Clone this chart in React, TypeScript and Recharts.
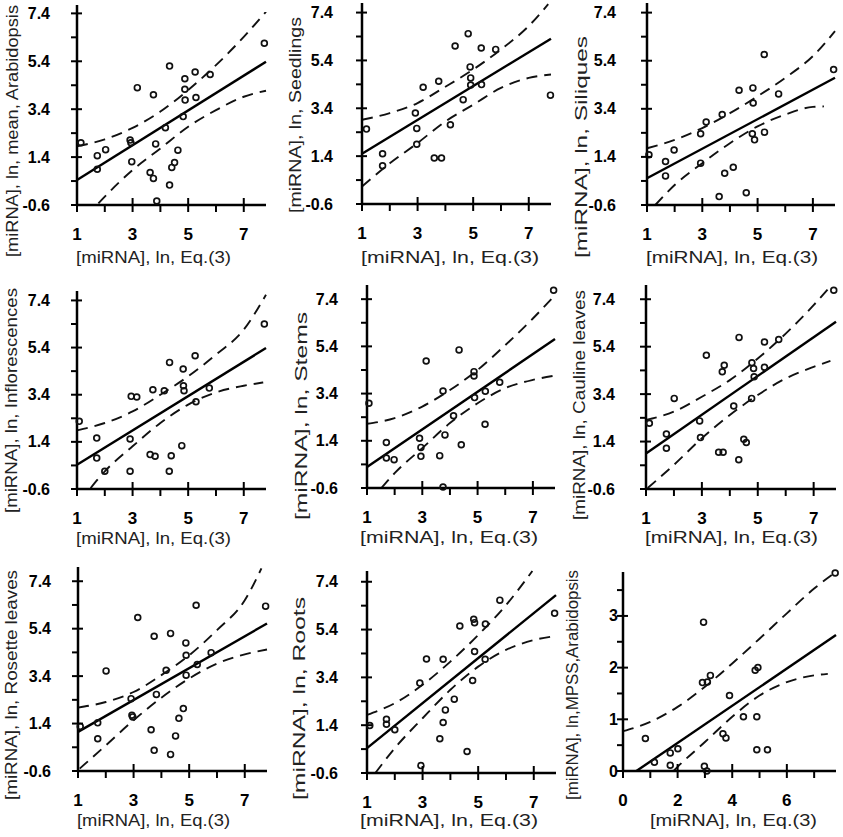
import { ComposedChart, Scatter, Line, XAxis, YAxis } from "recharts"

type P = { x: number; y: number }

const pt = (x: number, y: number): P => ({ x, y })

// [miRNA], ln, mean, Arabidopsis
const meanPts = [
  pt(1.14, 2.0), pt(1.73, 1.46), pt(1.73, 0.89), pt(2.03, 1.71), pt(2.91, 2.11),
  pt(2.94, 2.0), pt(2.97, 1.21), pt(3.17, 4.3), pt(3.75, 4.0), pt(3.63, 0.76),
  pt(3.75, 0.51), pt(3.83, 1.95), pt(3.87, -0.43), pt(4.18, 2.63), pt(4.33, 5.2),
  pt(4.33, 0.23), pt(4.41, 0.97), pt(4.51, 1.17), pt(4.63, 1.69), pt(4.82, 3.09),
  pt(4.88, 4.67), pt(4.88, 4.23), pt(4.89, 3.78), pt(5.25, 4.95), pt(5.28, 3.89),
  pt(5.79, 4.85), pt(7.74, 6.15),
]
const meanFit = [pt(1, 0.44), pt(7.8, 5.38)]
const meanHi = [pt(1, 1.85), pt(2, 2.14), pt(3, 2.62), pt(4, 3.3), pt(5, 4.2), pt(6, 5.24), pt(7, 6.42), pt(7.8, 7.47)]
const meanLo = [pt(1.77, -0.53), pt(2, -0.25), pt(3, 0.86), pt(4, 1.76), pt(5, 2.67), pt(6, 3.36), pt(7, 3.92), pt(7.8, 4.17)]

// Seedlings
const seedPts = [
  pt(1.16, 2.53), pt(1.74, 1.5), pt(1.74, 1.0), pt(2.92, 3.2), pt(2.97, 2.56),
  pt(2.97, 1.9), pt(3.2, 4.28), pt(3.6, 1.32), pt(3.86, 1.32), pt(3.76, 4.53),
  pt(4.18, 2.71), pt(4.35, 6.0), pt(4.64, 3.76), pt(4.82, 6.52), pt(4.89, 5.13),
  pt(4.91, 4.67), pt(4.91, 4.37), pt(5.29, 5.92), pt(5.3, 4.39), pt(5.81, 5.86),
  pt(7.78, 3.95),
]
const seedFit = [pt(1, 1.5), pt(7.8, 6.31)]
const seedHi = [pt(1, 2.92), pt(2, 3.2), pt(3, 3.62), pt(4, 4.3), pt(5, 5.02), pt(6, 5.86), pt(7, 6.84), pt(7.7, 7.75)]
const seedLo = [pt(1, 0.13), pt(2, 1.1), pt(3, 1.95), pt(4, 2.85), pt(5, 3.55), pt(6, 4.25), pt(7, 4.67), pt(7.8, 4.81)]

// Siliques
const siliPts = [
  pt(1.07, 1.49), pt(1.67, 1.21), pt(1.67, 0.61), pt(1.98, 1.69), pt(2.94, 2.36),
  pt(2.94, 1.14), pt(3.14, 2.85), pt(3.72, 3.16), pt(3.61, -0.25), pt(3.81, 0.72),
  pt(4.12, 0.97), pt(4.33, 4.17), pt(4.59, -0.09), pt(4.83, 4.27), pt(4.84, 3.64),
  pt(4.81, 2.36), pt(4.89, 2.11), pt(5.25, 2.43), pt(5.24, 5.66), pt(5.76, 4.02),
  pt(7.75, 5.03),
]
const siliFit = [pt(1, 0.51), pt(7.8, 4.69)]
const siliHi = [pt(1, 1.76), pt(2, 2.11), pt(3, 2.6), pt(4, 3.22), pt(5, 3.92), pt(6, 4.69), pt(7, 5.59), pt(7.8, 6.63)]
const siliLo = [pt(1.3, -0.6), pt(2, 0.23), pt(3, 1.14), pt(4, 1.97), pt(5, 2.67), pt(6, 3.16), pt(7, 3.48), pt(7.4, 3.5)]

// Inflorescences
const inflPts = [
  pt(1.08, 2.27), pt(1.71, 1.56), pt(1.71, 0.71), pt(2.0, 0.15), pt(2.91, 1.52),
  pt(2.91, 0.15), pt(2.95, 3.33), pt(3.15, 3.3), pt(3.73, 3.61), pt(3.63, 0.86),
  pt(3.81, 0.79), pt(4.14, 3.57), pt(4.33, 4.77), pt(4.32, 0.15), pt(4.39, 0.81),
  pt(4.77, 1.24), pt(4.82, 4.49), pt(4.83, 3.78), pt(4.85, 3.57), pt(5.25, 5.05),
  pt(5.28, 3.1), pt(5.76, 3.68), pt(7.74, 6.4),
]
const inflFit = [pt(1, 0.43), pt(7.8, 5.38)]
const inflHi = [pt(1, 1.89), pt(2, 2.2), pt(3, 2.69), pt(4, 3.4), pt(5, 4.18), pt(6, 5.1), pt(7, 6.16), pt(7.8, 7.64)]
const inflLo = [pt(1.49, -0.56), pt(2, 0.15), pt(3, 1.21), pt(4, 2.2), pt(5, 2.98), pt(6, 3.5), pt(7, 3.78), pt(7.7, 3.92)]

// Stems
const stemPts = [
  pt(1.07, 2.99), pt(1.7, 1.33), pt(1.7, 0.67), pt(1.98, 0.6), pt(2.9, 1.51),
  pt(2.95, 1.12), pt(2.95, 0.74), pt(3.14, 4.78), pt(3.63, 0.77), pt(3.75, 3.51),
  pt(3.75, -0.56), pt(3.82, 1.65), pt(4.13, 2.46), pt(4.33, 5.25), pt(4.41, 1.23),
  pt(4.87, 4.33), pt(4.87, 4.15), pt(4.89, 3.23), pt(5.28, 3.5), pt(5.27, 2.1),
  pt(5.8, 3.88), pt(7.75, 7.78),
]
const stemFit = [pt(1, 0.29), pt(7.8, 5.71)]
const stemHi = [pt(1, 2.12), pt(2, 2.36), pt(3, 2.85), pt(4, 3.55), pt(5, 4.4), pt(6, 5.45), pt(7, 6.58), pt(7.8, 7.57)]
const stemLo = [pt(1.52, -0.6), pt(2, 0.03), pt(3, 1.09), pt(4, 2.15), pt(5, 2.99), pt(6, 3.63), pt(7, 3.98), pt(7.8, 4.16)]

// Cauline leaves
const caulPts = [
  pt(1.12, 2.17), pt(1.73, 1.72), pt(1.73, 1.12), pt(2.01, 3.22), pt(2.92, 2.27),
  pt(2.95, 1.57), pt(3.16, 5.04), pt(3.6, 0.95), pt(3.76, 0.95), pt(3.73, 4.34),
  pt(3.8, 4.62), pt(4.14, 2.9), pt(4.33, 5.79), pt(4.32, 0.63), pt(4.5, 1.5),
  pt(4.59, 1.36), pt(4.79, 4.72), pt(4.85, 4.48), pt(4.87, 4.13), pt(4.78, 3.22),
  pt(5.24, 5.6), pt(5.24, 4.53), pt(5.75, 5.7), pt(7.72, 7.78),
]
const caulFit = [pt(1, 0.9), pt(7.8, 6.45)]
const caulHi = [pt(1, 2.31), pt(2, 2.66), pt(3, 3.29), pt(4, 3.99), pt(5, 4.9), pt(6, 5.95), pt(7, 7.15), pt(7.6, 7.95)]
const caulLo = [pt(1.06, -0.56), pt(2, 0.42), pt(3, 1.54), pt(4, 2.52), pt(5, 3.36), pt(6, 4.06), pt(7, 4.55), pt(7.6, 4.8)]

// Rosette leaves
const roslPts = [
  pt(1.08, 1.28), pt(1.71, 1.43), pt(1.71, 0.76), pt(2.01, 3.62), pt(2.91, 2.45),
  pt(2.94, 1.75), pt(2.97, 1.68), pt(3.15, 5.87), pt(3.63, 1.14), pt(3.74, 5.08),
  pt(3.74, 0.27), pt(3.82, 2.63), pt(4.17, 3.65), pt(4.33, 5.2), pt(4.33, 0.1),
  pt(4.51, 0.88), pt(4.63, 1.62), pt(4.79, 2.03), pt(4.88, 4.8), pt(4.89, 4.28),
  pt(4.89, 3.44), pt(5.25, 6.39), pt(5.29, 3.89), pt(5.79, 4.39), pt(7.75, 6.35),
]
const roslFit = [pt(1, 1.05), pt(7.8, 5.62)]
const roslHi = [pt(1, 2.07), pt(2, 2.31), pt(3, 2.73), pt(4, 3.44), pt(5, 4.28), pt(6, 5.34), pt(7, 6.6), pt(7.6, 7.94)]
const roslLo = [pt(1.06, -0.5), pt(2, 0.48), pt(3, 1.54), pt(4, 2.49), pt(5, 3.3), pt(6, 3.93), pt(7, 4.32), pt(7.8, 4.52)]

// Roots
const rootPts = [
  pt(1.1, 1.39), pt(1.7, 1.65), pt(1.7, 1.44), pt(2.0, 1.21), pt(2.9, 3.16),
  pt(2.94, -0.29), pt(3.14, 4.17), pt(3.62, 0.83), pt(3.74, 4.16), pt(3.74, 1.51),
  pt(3.82, 2.04), pt(4.14, 2.49), pt(4.34, 5.55), pt(4.6, 0.3), pt(4.8, 3.27),
  pt(4.84, 5.83), pt(4.87, 5.69), pt(4.87, 4.48), pt(5.26, 5.63), pt(5.25, 4.16),
  pt(5.78, 6.63), pt(7.75, 6.08),
]
const rootFit = [pt(1, 0.44), pt(7.8, 6.84)]
const rootHi = [pt(1, 1.83), pt(2, 2.32), pt(3, 3.09), pt(4, 4.06), pt(5, 5.17), pt(6, 6.42), pt(6.95, 7.85)]
const rootLo = [pt(1.3, -0.6), pt(2, 0.44), pt(3, 1.69), pt(4, 2.88), pt(5, 3.85), pt(6, 4.55), pt(7, 4.96), pt(7.8, 5.13)]

// MPSS, Arabidopsis
const mpssPts = [
  pt(0.82, 0.63), pt(1.15, 0.17), pt(1.73, 0.35), pt(1.73, 0.11), pt(2.01, 0.43),
  pt(2.95, 2.88), pt(2.91, 1.71), pt(3.09, 1.72), pt(3.2, 1.85), pt(2.98, 0.09),
  pt(3.07, 0.0), pt(3.66, 0.72), pt(3.77, 0.64), pt(3.9, 1.46), pt(4.41, 1.05),
  pt(4.84, 1.95), pt(4.94, 2.0), pt(4.9, 1.05), pt(4.9, 0.41), pt(5.29, 0.41),
  pt(7.77, 3.83),
]
const mpssFit = [pt(0.49, 0), pt(7.8, 2.63)]
const mpssHi = [pt(0, 0.77), pt(1, 0.95), pt(2, 1.24), pt(3, 1.63), pt(4, 2.08), pt(5, 2.56), pt(6, 3.05), pt(7, 3.53), pt(7.8, 3.85)]
const mpssLo = [pt(1.85, 0), pt(2, 0.08), pt(3, 0.56), pt(4, 1.05), pt(5, 1.46), pt(6, 1.72), pt(7, 1.85), pt(7.5, 1.88)]

const eqTicks = [1, 2, 3, 4, 5, 6, 7]
const eqLabels = [1, 3, 5, 7]
const lnTicks = [-0.6, 0.4, 1.4, 2.4, 3.4, 4.4, 5.4, 6.4, 7.4]
const lnLabels = [-0.6, 1.4, 3.4, 5.4, 7.4]
const mpssXTicks = [0, 1, 2, 3, 4, 5, 6, 7]
const mpssXLabels = [0, 2, 4, 6]
const mpssYTicks = [0, 0.5, 1, 1.5, 2, 2.5, 3, 3.5]
const mpssYLabels = [0, 1, 2, 3]

const xTitle = "[miRNA], ln, Eq.(3)"
const yTitles = [
  "[miRNA], ln, mean, Arabidopsis",
  "[miRNA], ln, Seedlings",
  "[miRNA], ln, Siliques",
  "[miRNA], ln, Inflorescences",
  "[miRNA], ln, Stems",
  "[miRNA], ln, Cauline leaves",
  "[miRNA], ln, Rosette leaves",
  "[miRNA], ln, Roots",
  "[miRNA], ln,MPSS,Arabidopsis",
]

const FONT = "'Liberation Sans', Arial, sans-serif"
const AXW = 75 // room left of the y axis
const AXH = 70 // room below the x axis
const MR = 20
const MT = 10

// plot placement: ax/ay = pixel of the axes corner, w/h = plot size
// ytx/yt0/yt1 = y-title centre x and span, xt0/xt1/xty = x-title span and centre y
const layout = [
  { ax: 77, ay: 205, w: 189, h: 200, ymax: 7.75, lab: 27, ytx: 12, yt0: 5, yt1: 257, xt0: 76, xt1: 231, xty: 257 },
  { ax: 362, ay: 204, w: 189, h: 201, ymax: 7.8, lab: 29, ytx: 295, yt0: 17, yt1: 213, xt0: 361, xt1: 539, xty: 257 },
  { ax: 647, ay: 205, w: 188, h: 202, ymax: 7.8, lab: 31, ytx: 581, yt0: 36, yt1: 258, xt0: 646, xt1: 818, xty: 257 },
  { ax: 77, ay: 489, w: 189, h: 198, ymax: 7.8, lab: 27, ytx: 11, yt0: 288, yt1: 513, xt0: 76, xt1: 231, xty: 538 },
  { ax: 367, ay: 488, w: 188, h: 203, ymax: 8.0, lab: 29, ytx: 301, yt0: 312, yt1: 520, xt0: 360, xt1: 538, xty: 537 },
  { ax: 646, ay: 489, w: 190, h: 204, ymax: 8.0, lab: 31, ytx: 579, yt0: 290, yt1: 520, xt0: 645, xt1: 818, xty: 537 },
  { ax: 78, ay: 771, w: 189, h: 204, ymax: 8.0, lab: 27, ytx: 11, yt0: 570, yt1: 800, xt0: 77, xt1: 230, xty: 820 },
  { ax: 367, ay: 773, w: 189, h: 202, ymax: 7.85, lab: 29, ytx: 299, yt0: 597, yt1: 800, xt0: 360, xt1: 538, xty: 820 },
  { ax: 623, ay: 771, w: 213, h: 199, ymax: 3.85, lab: 5, ytx: 572, yt0: 570, yt1: 800, xt0: 650, xt1: 817, xty: 820 },
]

const series = [
  { pts: meanPts, fit: meanFit, hi: meanHi, lo: meanLo },
  { pts: seedPts, fit: seedFit, hi: seedHi, lo: seedLo },
  { pts: siliPts, fit: siliFit, hi: siliHi, lo: siliLo },
  { pts: inflPts, fit: inflFit, hi: inflHi, lo: inflLo },
  { pts: stemPts, fit: stemFit, hi: stemHi, lo: stemLo },
  { pts: caulPts, fit: caulFit, hi: caulHi, lo: caulLo },
  { pts: roslPts, fit: roslFit, hi: roslHi, lo: roslLo },
  { pts: rootPts, fit: rootFit, hi: rootHi, lo: rootLo },
  { pts: mpssPts, fit: mpssFit, hi: mpssHi, lo: mpssLo },
]

function XTick(props: any) {
  const { x, y, payload, labels } = props
  const major = labels.includes(payload.value)
  return (
    <g>
      <line x1={x} x2={x} y1={major ? y - 7 : y} y2={y + 7} stroke="#000" strokeWidth={2} />
      {major && (
        <text x={x} y={y + 29} textAnchor="middle" dominantBaseline="central"
          fontSize={17} fontWeight="bold" fontFamily={FONT} fill="#000">
          {payload.value}
        </text>
      )}
    </g>
  )
}

function YTick(props: any) {
  const { x, y, payload, labels, off } = props
  const major = labels.includes(payload.value)
  return (
    <g>
      <line x1={x - 6} x2={major ? x + 5 : x} y1={y} y2={y} stroke="#000" strokeWidth={2} />
      {major && (
        <text x={x - off} y={y} textAnchor="end" dominantBaseline="central"
          fontSize={16} fontWeight="bold" fontFamily={FONT} fill="#000">
          {payload.value}
        </text>
      )}
    </g>
  )
}

const ring = (p: any) => (
  <circle cx={p.cx} cy={p.cy} r={2.9} fill="none" stroke="#111" strokeWidth={1.7} />
)

function Panel({ i }: { i: number }) {
  const L = layout[i]
  const S = series[i]
  const mpss = i === 8
  const xmin = mpss ? 0 : 1
  const ymin = mpss ? 0 : -0.6
  const xt = mpss ? mpssXTicks : eqTicks
  const xl = mpss ? mpssXLabels : eqLabels
  const yt = mpss ? mpssYTicks : lnTicks
  const yl = mpss ? mpssYLabels : lnLabels
  return (
    <div style={{ position: "absolute", left: L.ax - AXW, top: L.ay - L.h - MT }}>
      <ComposedChart
        width={AXW + L.w + MR}
        height={MT + L.h + AXH}
        margin={{ top: MT, right: MR, bottom: 0, left: 0 }}
      >
        <XAxis
          type="number" dataKey="x" domain={[xmin, 7.8]} ticks={xt} interval={0}
          height={AXH} tickSize={0} tickMargin={0} tickLine={false}
          axisLine={{ stroke: "#000", strokeWidth: 2.5 }}
          tick={(p: any) => <XTick {...p} labels={xl} />}
        />
        <YAxis
          type="number" dataKey="y" domain={[ymin, L.ymax]} ticks={yt} interval={0}
          width={AXW} tickSize={0} tickMargin={0} tickLine={false}
          axisLine={{ stroke: "#000", strokeWidth: 2.5 }}
          tick={(p: any) => <YTick {...p} labels={yl} off={L.lab} />}
        />
        <Line data={S.lo} dataKey="y" type="monotone" stroke="#111" strokeWidth={1.9}
          strokeDasharray="11 7" dot={false} isAnimationActive={false} />
        <Line data={S.hi} dataKey="y" type="monotone" stroke="#111" strokeWidth={1.9}
          strokeDasharray="11 7" dot={false} isAnimationActive={false} />
        <Line data={S.fit} dataKey="y" type="linear" stroke="#000" strokeWidth={2.4}
          dot={false} isAnimationActive={false} />
        <Scatter data={S.pts} shape={ring} isAnimationActive={false} />
      </ComposedChart>
    </div>
  )
}

export default function App() {
  return (
    <div style={{ position: "absolute", left: 0, top: 0, width: 843, height: 837, background: "#fff" }}>
      {layout.map((_, i) => <Panel key={i} i={i} />)}
      <svg width={843} height={837} style={{ position: "absolute", left: 0, top: 0, pointerEvents: "none" }}>
        {layout.map((L, i) => {
          const cy = (L.yt0 + L.yt1) / 2
          return (
            <g key={i} fontFamily={FONT} fontSize={16} fill="#222">
              <text
                transform={`translate(${L.ytx},${cy}) rotate(-90)`}
                textAnchor="middle" dominantBaseline="central"
                textLength={L.yt1 - L.yt0} lengthAdjust="spacingAndGlyphs"
              >
                {yTitles[i]}
              </text>
              <text
                x={L.xt0} y={L.xty} dominantBaseline="central"
                textLength={L.xt1 - L.xt0} lengthAdjust="spacingAndGlyphs"
              >
                {xTitle}
              </text>
            </g>
          )
        })}
      </svg>
    </div>
  )
}
